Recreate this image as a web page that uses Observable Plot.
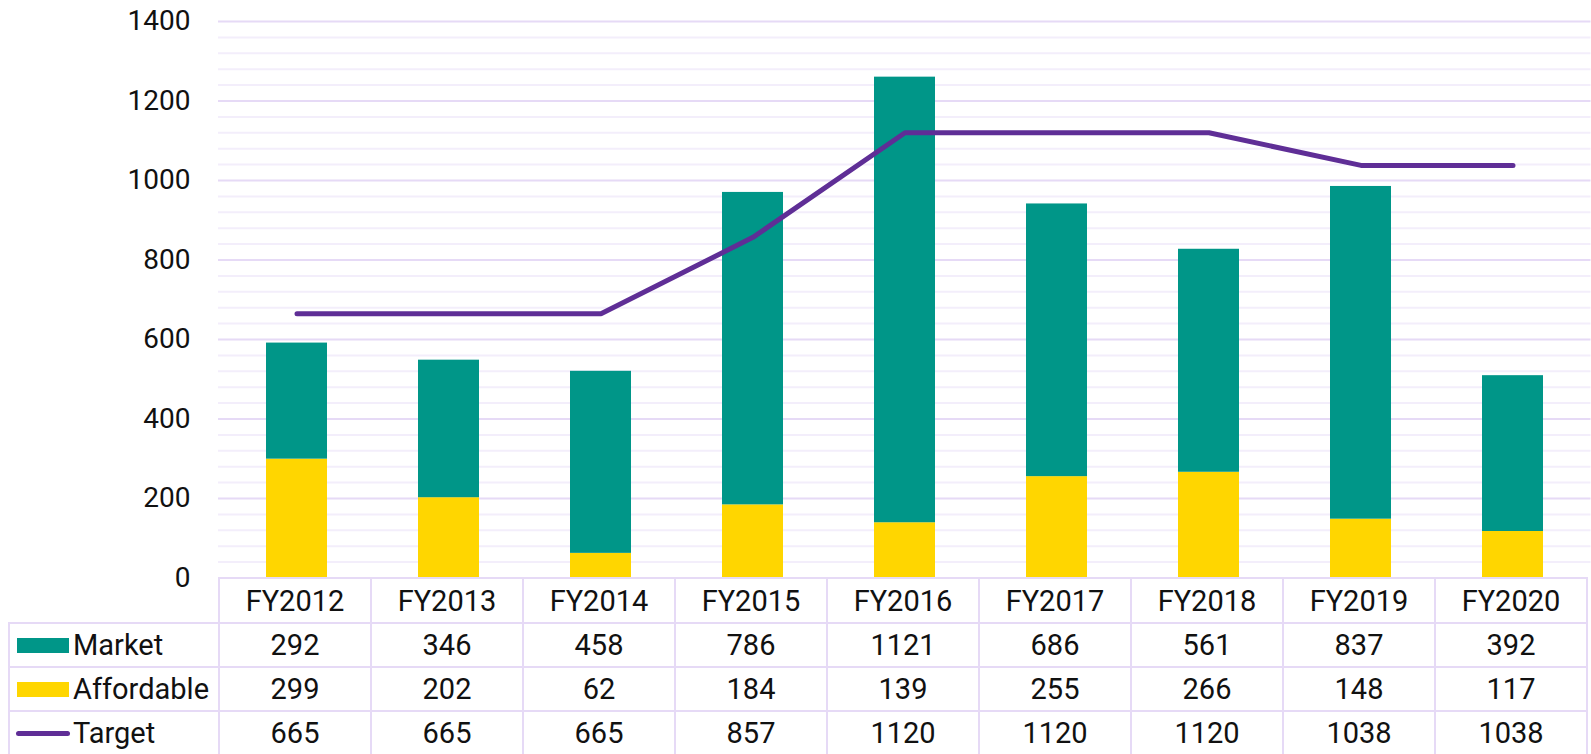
<!DOCTYPE html>
<html>
<head>
<meta charset="utf-8">
<script src="https://cdn.jsdelivr.net/npm/d3@7"></script>
<script src="https://cdn.jsdelivr.net/npm/@observablehq/plot@0.6"></script>
<style>
  html, body { margin: 0; padding: 0; background: #fff; }
  #wrap { position: relative; width: 1591px; height: 754px; overflow: hidden; font-family: Roboto, sans-serif; }
  #wrap svg { overflow: visible; }
  table.dt { position: absolute; left: 8px; top: 577px; border-collapse: collapse; table-layout: fixed; font-family: Roboto, sans-serif; font-size: 29px; color: #111; }
  table.dt td { border: 2px solid #E6DAF6; text-align: center; padding: 0; height: 42px; line-height: 30px; }
  table.dt td.blank { border: none; border-bottom: 2px solid #E6DAF6; }
  table.dt td.lab { text-align: left; white-space: nowrap; }
  .sw { display: inline-block; vertical-align: middle; margin-left: 7px; margin-right: 4px; position: relative; top: -2px; }
</style>
</head>
<body>
<div id="wrap"></div>
<script>
const years = ["FY2012","FY2013","FY2014","FY2015","FY2016","FY2017","FY2018","FY2019","FY2020"];
const market = [292, 346, 458, 786, 1121, 686, 561, 837, 392];
const affordable = [299, 202, 62, 184, 139, 255, 266, 148, 117];
const target = [665, 665, 665, 857, 1120, 1120, 1120, 1038, 1038];
const yTicks = [0, 200, 400, 600, 800, 1000, 1200, 1400];
const seriesNames = ["Market", "Affordable", "Target"];
const colors = {Market: "#009688", Affordable: "#FFD600", Target: "#5F2E96"};

const stacked = [];
years.forEach((y, i) => {
  stacked.push({year: y, series: "Affordable", value: affordable[i]});
  stacked.push({year: y, series: "Market", value: market[i]});
});
const lineData = years.map((y, i) => ({year: y, value: target[i]}));
const minor = d3.range(0, 1401, 40).filter(v => v % 200 !== 0);

const chart = Plot.plot({
  width: 1591,
  height: 754,
  marginLeft: 218,
  marginRight: 0.5,
  marginTop: 21,
  marginBottom: 176.5,
  style: {fontFamily: "Roboto, sans-serif", fontSize: "28px", color: "#111", background: "transparent"},
  x: {type: "band", domain: years, paddingInner: 0.6, paddingOuter: 0.3, axis: null},
  y: {domain: [0, 1400], ticks: yTicks, tickSize: 0, tickPadding: 28, tickFormat: d => String(d), label: null},
  color: {domain: ["Market", "Affordable"], range: [colors.Market, colors.Affordable]},
  marks: [
    Plot.ruleY(minor, {stroke: "#F3EEFB", strokeWidth: 2}),
    Plot.ruleY(yTicks.filter(v => v > 0), {stroke: "#E6DAF6", strokeWidth: 2}),
    Plot.barY(stacked, {x: "year", y: "value", fill: "series", order: ["Affordable", "Market"]}),
    Plot.line(lineData, {x: "year", y: "value", stroke: colors.Target, strokeWidth: 5, strokeLinecap: "round", strokeLinejoin: "miter"})
  ]
});
const wrap = document.getElementById("wrap");
wrap.appendChild(chart);

// data table below the chart, aligned with the band scale
const xs = chart.scale("x");
const step = xs.step !== undefined ? xs.step : (xs.range[1] - xs.range[0]) / years.length;
const firstW = 218 - 8;
const table = document.createElement("table");
table.className = "dt";
table.style.width = (firstW + step * years.length) + "px";
const cg = document.createElement("colgroup");
const c0 = document.createElement("col"); c0.style.width = firstW + "px"; cg.appendChild(c0);
years.forEach(() => { const c = document.createElement("col"); c.style.width = step + "px"; cg.appendChild(c); });
table.appendChild(cg);

const head = document.createElement("tr");
const blank = document.createElement("td"); blank.className = "blank"; head.appendChild(blank);
years.forEach(y => { const td = document.createElement("td"); td.textContent = y; td.style.height = "43px"; head.appendChild(td); });
table.appendChild(head);

const rows = [[seriesNames[0], market], [seriesNames[1], affordable], [seriesNames[2], target]];
rows.forEach(([name, vals]) => {
  const tr = document.createElement("tr");
  const lab = document.createElement("td"); lab.className = "lab";
  const sw = document.createElement("span"); sw.className = "sw";
  if (name === "Target") {
    sw.style.width = "54px"; sw.style.height = "5px"; sw.style.borderRadius = "3px"; sw.style.background = colors.Target;
    sw.style.marginLeft = "6px"; sw.style.marginRight = "3px";
  } else {
    sw.style.width = "52px"; sw.style.height = "15px"; sw.style.background = colors[name];
  }
  lab.appendChild(sw);
  lab.appendChild(document.createTextNode(name));
  tr.appendChild(lab);
  vals.forEach(v => { const td = document.createElement("td"); td.textContent = v; tr.appendChild(td); });
  table.appendChild(tr);
});
wrap.appendChild(table);
</script>
</body>
</html>
